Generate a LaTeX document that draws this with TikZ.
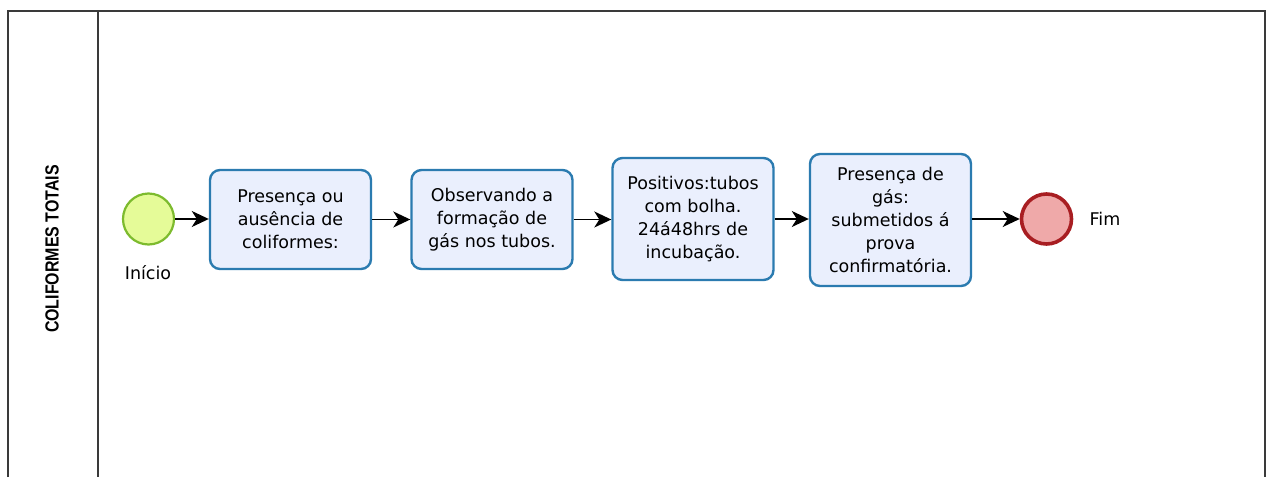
\documentclass[tikz,border=0pt]{standalone}
\usepackage{fontspec}
\setmainfont{DejaVu Sans}
\newfontfamily\raiafont{Liberation Sans}
\usetikzlibrary{arrows.meta}
\definecolor{tarefaborda}{HTML}{2B7BB0}
\definecolor{tarefafundo}{HTML}{EAEFFD}
\definecolor{inicioborda}{HTML}{7DBB2E}
\definecolor{iniciofundo}{HTML}{E5FB98}
\definecolor{fimborda}{HTML}{A81E22}
\definecolor{fimfundo}{HTML}{EFA9A9}
\definecolor{moldura}{HTML}{3A3A3A}
\begin{document}
\begin{tikzpicture}[x=1pt,y=-1pt,
  tarefa/.style={draw=tarefaborda,fill=tarefafundo,line width=2.4pt,rounded corners=10pt,align=center,
    minimum width=161pt,font=\fontsize{17.5}{23}\selectfont},
  inicio/.style={circle,draw=inicioborda,fill=iniciofundo,line width=2.2pt,minimum size=51pt,inner sep=0pt},
  fim/.style={circle,draw=fimborda,fill=fimfundo,line width=3.6pt,minimum size=50pt,inner sep=0pt},
  rotulo/.style={font=\fontsize{17.5}{23}\selectfont},
  fluxo/.style={draw,line width=1.7pt,-{Stealth[length=17pt,width=16pt,inset=5pt]}}]
\useasboundingbox (0,0) rectangle (1266,477);
\draw[moldura,line width=1.5pt] (8,477) -- (8,11) -- (1265,11) -- (1265,477);
\draw[moldura,line width=1.5pt] (98,11) -- (98,477);
\node[rotate=90,font=\raiafont\bfseries\fontsize{19}{19}\selectfont] (raia) at (52,249) {\scalebox{0.84}[1]{COLIFORMES TOTAIS}};
\node[inicio] (inicio) at (148.5,219) {};
\node[rotulo] (rotinicio) at (148,273) {Início};
\node[tarefa,minimum height=99pt] (t1) at (290.5,219.5) {Presença ou\\ausência de\\coliformes:};
\node[tarefa,minimum height=99pt] (t2) at (492,219.5) {Observando a\\formação de\\gás nos tubos.};
\node[tarefa,minimum height=122pt] (t3) at (693,219) {Positivos:tubos\\com bolha.\\24á48hrs de\\incubação.};
\node[tarefa,minimum height=132pt] (t4) at (890.5,220) {Presença de\\gás:\\submetidos á\\prova\\confirmatória.};
\node[fim] (fim) at (1046.5,219) {};
\node[rotulo] (rotfim) at (1105,219) {Fim};
\path[fluxo] (inicio) -- (t1.west |- inicio);
\path[fluxo] (t1) -- (t2);
\path[fluxo] (t2) -- (t3.west |- t2);
\path[fluxo] (t3) -- (t4.west |- t3);
\path[fluxo] (t4.east |- fim) -- (fim);
\end{tikzpicture}
\end{document}
